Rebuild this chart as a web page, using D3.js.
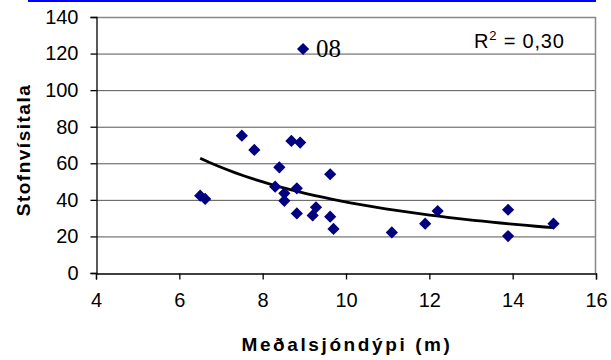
<!DOCTYPE html>
<html>
<head>
<meta charset="utf-8">
<script src="https://cdn.jsdelivr.net/npm/d3@7"></script>
<style>
  html, body { margin: 0; padding: 0; background: #fff; }
  svg { display: block; }
  text { font-family: "Liberation Sans", Arial, sans-serif; fill: #000; }
</style>
</head>
<body>
<svg id="chart" width="611" height="360"></svg>
<script>
// Mean Secchi depth (m) per year and the stock index
const depth = [7.5, 7.8, 8.69, 8.9, 8.4, 9.62, 6.5, 6.62, 8.3, 8.52, 8.82, 8.52,
               8.82, 9.28, 9.2, 9.62, 9.7, 11.1, 11.9, 12.2, 13.89, 13.89, 14.98, 8.97];
const index = [75.1, 67.3, 72.2, 71.3, 57.8, 54, 42.3, 40.5, 47.2, 43.6, 46.3, 39.5,
               32.6, 35.9, 31.5, 30.8, 24.1, 22.2, 27, 33.9, 34.6, 20.2, 27, 122.5];
// Point labels (only the outlier carries one)
const pointLabels = ["", "", "", "", "", "", "", "", "", "", "", "",
                     "", "", "", "", "", "", "", "", "", "", "", "08"];
const xTicks = [4, 6, 8, 10, 12, 14, 16];
const yTicks = [0, 20, 40, 60, 80, 100, 120, 140];
const rSquaredLabel = "0,30";

const svg = d3.select("#chart");
const x = d3.scaleLinear().domain([4, 16]).range([96, 596]);
const y = d3.scaleLinear().domain([0, 140]).range([273, 17]);

// Blue rule above the chart
svg.append("line").attr("x1", 28).attr("x2", 596).attr("y1", 1).attr("y2", 1)
  .attr("stroke", "#0000ff").attr("stroke-width", 2);

// Horizontal gridlines
svg.append("g").selectAll("line").data(yTicks.filter(d => d > 0 && d < 140)).join("line")
  .attr("x1", x(4)).attr("x2", x(16))
  .attr("y1", d => y(d) + 0.5).attr("y2", d => y(d) + 0.5)
  .attr("stroke", "#555").attr("stroke-width", 1);

// Plot frame (top and right in grey)
svg.append("path")
  .attr("d", `M${x(4)},${y(140) + 0.5}H${x(16) - 0.5}V${y(0)}`)
  .attr("fill", "none").attr("stroke", "#888").attr("stroke-width", 1.5);

// Axes
const xAxis = d3.axisBottom(x).tickValues(xTicks).tickSize(6).tickPadding(8).tickFormat(d3.format("d"));
const yAxis = d3.axisLeft(y).tickValues(yTicks).tickSize(6).tickPadding(12).tickFormat(d3.format("d"));

const gx = svg.append("g").attr("transform", `translate(0,${y(0) + 0.5})`).call(xAxis);
const gy = svg.append("g").attr("transform", `translate(${x(4) + 0.5},0)`).call(yAxis);
[gx, gy].forEach(g => {
  g.attr("font-family", null).attr("font-size", null);
  g.select(".domain").attr("stroke", "#000").attr("stroke-width", 1.3);
  g.selectAll(".tick line").attr("stroke", "#000").attr("stroke-width", 1.3);
  g.selectAll(".tick text").style("font-size", "20px").attr("fill", "#000");
});
gx.selectAll(".tick text").attr("dy", "0.95em");

// Power trendline fitted by least squares on ln(y) vs ln(x)
const lx = depth.map(Math.log), ly = index.map(Math.log);
const mx = d3.mean(lx), my = d3.mean(ly);
const b = d3.sum(lx.map((v, i) => (v - mx) * (ly[i] - my))) / d3.sum(lx.map(v => (v - mx) ** 2));
const a = Math.exp(my - b * mx);
const [xmin, xmax] = d3.extent(depth);
const trendX = d3.range(0, 41).map(i => xmin + (xmax - xmin) * i / 40);
svg.append("path")
  .datum(trendX)
  .attr("d", d3.line().x(d => x(d)).y(d => y(a * Math.pow(d, b))))
  .attr("fill", "none").attr("stroke", "#000").attr("stroke-width", 2.8);

// Points
const diamond = d3.symbol().type(d3.symbolDiamond2).size(95);
svg.append("g").selectAll("path").data(depth).join("path")
  .attr("d", diamond)
  .attr("transform", (d, i) => `translate(${x(d)},${y(index[i])})`)
  .attr("fill", "#000080");

// Point label (serif, as in the original workbook)
svg.append("g").selectAll("text").data(depth.map((d, i) => i).filter(i => pointLabels[i])).join("text")
  .attr("x", i => x(depth[i]) + 13)
  .attr("y", i => y(index[i]) + 8)
  .style("font-family", "'Liberation Serif', 'DejaVu Serif', 'Times New Roman', serif")
  .style("font-size", "25px")
  .text(i => pointLabels[i]);

// R² annotation
const r2 = svg.append("text").attr("x", 474).attr("y", 48).style("font-size", "20px").attr("letter-spacing", 0.8);
r2.append("tspan").text("R");
r2.append("tspan").style("font-size", "13px").attr("dy", -8).text("2");
r2.append("tspan").attr("dy", 8).text(" = " + rSquaredLabel);

// Axis titles
svg.append("text")
  .attr("x", 347).attr("y", 351).attr("text-anchor", "middle")
  .style("font-size", "19px").attr("font-weight", "bold").attr("letter-spacing", 2.6)
  .text("Meðalsjóndýpi (m)");
svg.append("text")
  .attr("transform", "translate(30,150) rotate(-90)").attr("text-anchor", "middle")
  .style("font-size", "19px").attr("font-weight", "bold").attr("letter-spacing", 1.5)
  .text("Stofnvísitala");
</script>
</body>
</html>
